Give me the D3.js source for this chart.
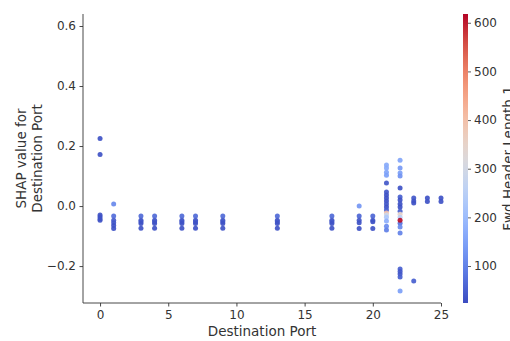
<!DOCTYPE html>
<html>
<head>
<meta charset="utf-8">
<script src="https://cdn.jsdelivr.net/npm/d3@7"></script>
<style>
  body { margin: 0; background: #fff; }
  svg text { font-family: "DejaVu Sans", sans-serif; fill: #333; }
</style>
</head>
<body>
<div id="chart"></div>
<script>
// destination port (x), shap value (y), Fwd Header Length.1 (colour)
var portValues = [
  0, 0, 0, 0, 0, 0,
  1, 1, 1, 1, 1, 1,
  3, 3, 3, 3, 3,
  4, 4, 4, 4, 4,
  6, 6, 6, 6, 6,
  7, 7, 7, 7, 7,
  9, 9, 9, 9, 9,
  13, 13, 13, 13, 13,
  17, 17, 17, 17, 17,
  19, 19, 19, 19, 19,
  20, 20, 20, 20,
  21, 21, 21, 21, 21, 21, 21, 21, 21, 21, 21, 21, 21, 21, 21, 21, 21, 21,
  22, 22, 22, 22, 22, 22, 22, 22, 22, 22, 22, 22, 22, 22, 22, 22, 22, 22, 22, 22,
  23, 23, 23, 23,
  24, 24,
  25, 25,
  22
];
var shapValues = [
  0.225, 0.172, -0.030, -0.036, -0.042, -0.047,
  0.007, -0.033, -0.047, -0.056, -0.065, -0.075,
  -0.033, -0.047, -0.052, -0.058, -0.074,
  -0.033, -0.047, -0.052, -0.058, -0.074,
  -0.033, -0.047, -0.052, -0.058, -0.074,
  -0.033, -0.047, -0.052, -0.058, -0.074,
  -0.033, -0.047, -0.052, -0.058, -0.074,
  -0.033, -0.047, -0.052, -0.058, -0.074,
  -0.033, -0.047, -0.052, -0.058, -0.074,
  0.000, -0.033, -0.047, -0.056, -0.075,
  -0.033, -0.047, -0.052, -0.075,
  0.137, 0.127, 0.113, 0.103, 0.077, 0.047, 0.037, 0.027, 0.017, 0.007, -0.003, -0.013, -0.023, -0.030, -0.037, -0.050, -0.067, -0.080,
  0.153, 0.127, 0.110, 0.100, 0.060, 0.030, 0.020, 0.007, -0.003, -0.017, -0.027, -0.037, -0.057, -0.070, -0.090, -0.210, -0.218, -0.226, -0.236, -0.283,
  0.027, 0.017, 0.010, -0.250,
  0.027, 0.015,
  0.027, 0.015,
  -0.047
];
var headerLength = [
  32, 32, 32, 32, 32, 32,
  110, 70, 45, 40, 32, 32,
  65, 40, 40, 32, 32,
  65, 40, 40, 32, 32,
  65, 40, 40, 32, 32,
  65, 40, 40, 32, 32,
  65, 40, 40, 32, 32,
  65, 40, 40, 32, 32,
  65, 40, 40, 32, 32,
  130, 60, 40, 32, 32,
  60, 40, 32, 32,
  165, 165, 155, 145, 40, 40, 32, 32, 32, 40, 32, 50, 400, 280, 230, 175, 115, 95,
  155, 135, 145, 125, 32, 50, 32, 32, 32, 50, 350, 250, 80, 110, 100, 50, 40, 40, 50, 145,
  40, 32, 32, 50,
  32, 32,
  32, 32,
  610
];
var xTicks = [0, 5, 10, 15, 20, 25];
var yTicks = [-0.2, 0.0, 0.2, 0.4, 0.6];
var cTicks = [100, 200, 300, 400, 500, 600];

// matplotlib coolwarm
var coolwarm = d3.interpolateRgbBasis(["#3b4cc0", "#5977e3", "#7b9ff9", "#9ebeff", "#c0d4f5", "#dddcdc", "#f2cbb7", "#f7ac8e", "#ee8468", "#d65244", "#b40426"]);

var width = 510, height = 341;
var plot = { left: 83, right: 441, top: 14, bottom: 303 };

var svg = d3.select("#chart").append("svg")
  .attr("width", width)
  .attr("height", height);

var xScale = d3.scaleLinear().domain([-1.25, 25]).range([plot.left, plot.right]);
var yScale = d3.scaleLinear().domain([-0.323, 0.64]).range([plot.bottom, plot.top]);
var cScale = d3.scaleLinear().domain([24, 618]).range([plot.bottom, plot.top]);
function colorOf(v) { return coolwarm((v - 24) / (618 - 24)); }

var minus = function (d) { return d3.format(".1f")(d).replace("-", "\u2212"); };

// axes
var xAxis = d3.axisBottom(xScale).tickValues(xTicks).tickSize(3.5).tickPadding(3.5).tickFormat(d3.format("d"));
var yAxis = d3.axisLeft(yScale).tickValues(yTicks).tickSize(3.5).tickPadding(3.5).tickFormat(minus);

var gx = svg.append("g").attr("transform", "translate(0," + plot.bottom + ")").call(xAxis);
var gy = svg.append("g").attr("transform", "translate(" + plot.left + ",0)").call(yAxis);
[gx, gy].forEach(function (g) {
  g.selectAll("path.domain").attr("stroke", "#333").attr("stroke-width", 0.9);
  g.selectAll(".tick line").attr("stroke", "#333").attr("stroke-width", 0.9);
  g.selectAll(".tick text").style("font-size", "12px").attr("fill", "#333");
});
// spine only to the last tick, like matplotlib
gx.select("path.domain").attr("d", "M" + plot.left + ",0H" + plot.right);
gy.select("path.domain").attr("d", "M0," + plot.top + "V" + plot.bottom);

// dots
svg.append("g").selectAll("circle")
  .data(portValues)
  .enter()
  .append("circle")
  .attr("cx", function (d) { return xScale(d); })
  .attr("cy", function (d, i) { return yScale(shapValues[i]); })
  .attr("r", 2.5)
  .attr("fill", function (d, i) { return colorOf(headerLength[i]); })
  .attr("opacity", 0.92);

// axis labels
svg.append("text")
  .attr("x", (plot.left + plot.right) / 2)
  .attr("y", 336)
  .attr("text-anchor", "middle")
  .style("font-size", "13.5px")
  .text("Destination Port");

var yl = svg.append("text")
  .attr("transform", "translate(26," + (plot.top + plot.bottom) / 2 + ") rotate(-90)")
  .attr("text-anchor", "middle")
  .style("font-size", "13.5px");
yl.append("tspan").attr("x", 0).attr("y", 0).text("SHAP value for");
yl.append("tspan").attr("x", 0).attr("y", 15.5).text("Destination Port");

// colorbar
var defs = svg.append("defs");
var grad = defs.append("linearGradient").attr("id", "cbar")
  .attr("x1", 0).attr("y1", 1).attr("x2", 0).attr("y2", 0);
d3.range(0, 1.0001, 0.05).forEach(function (t) {
  grad.append("stop").attr("offset", t).attr("stop-color", coolwarm(t));
});
var cbX = 463, cbW = 5;
svg.append("rect")
  .attr("x", cbX).attr("y", plot.top)
  .attr("width", cbW).attr("height", plot.bottom - plot.top)
  .attr("fill", "url(#cbar)");

var cAxis = d3.axisRight(cScale).tickValues(cTicks).tickSize(3).tickPadding(3);
var gc = svg.append("g").attr("transform", "translate(" + (cbX + cbW) + ",0)").call(cAxis);
gc.select("path.domain").remove();
gc.selectAll(".tick line").attr("stroke", "#333").attr("stroke-width", 0.8);
gc.selectAll(".tick text").style("font-size", "12px").attr("fill", "#333");

// label runs past the right edge, as in the reference
svg.append("text")
  .attr("transform", "translate(512.5," + (plot.top + plot.bottom) / 2 + ") rotate(-90)")
  .attr("text-anchor", "middle")
  .style("font-size", "13.5px")
  .text("Fwd Header Length.1");
</script>
</body>
</html>
